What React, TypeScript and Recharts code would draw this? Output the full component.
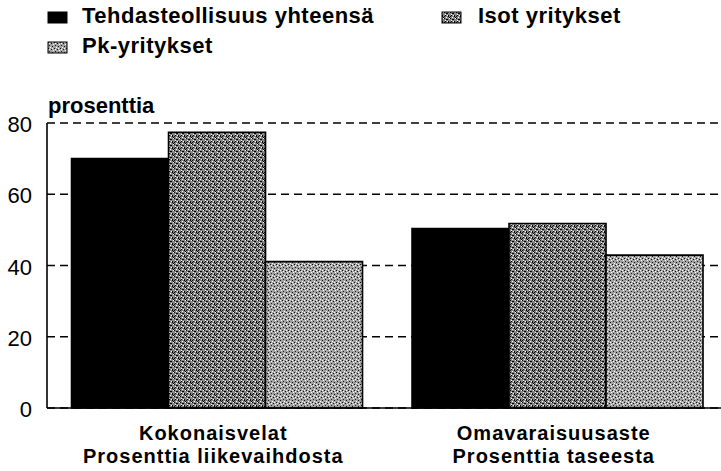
import React from 'react';
import { BarChart, Bar, XAxis, YAxis, CartesianGrid, Legend } from 'recharts';

const categories = ['Kokonaisvelat|Prosenttia liikevaihdosta', 'Omavaraisuusaste|Prosenttia taseesta'];
const tehdasteollisuus = [70, 50.4];
const isot = [77.4, 51.8];
const pk = [41.1, 42.9];
const seriesNames = ['Tehdasteollisuus yhteensä', 'Isot yritykset', 'Pk-yritykset'];
const yTicks = [0, 20, 40, 60, 80];

const data = categories.map((c, i) => ({
  name: c,
  teh: tehdasteollisuus[i],
  isot: isot[i],
  pk: pk[i],
}));

const FONT = '"Liberation Sans", Arial, Helvetica, sans-serif';

const XTick = (props: any) => {
  const { x, y, payload } = props;
  const lines = String(payload.value).split('|');
  return (
    <g>
      {lines.map((l, i) => (
        <text key={i} x={x - 4} y={y + 24 + i * 22.6} textAnchor="middle" fontFamily={FONT} fontWeight="bold" fontSize={20} letterSpacing={1} fill="#000">
          {l}
        </text>
      ))}
    </g>
  );
};

const YTick = (props: any) => {
  const { y, payload } = props;
  return (
    <text x={32} y={y + 9} textAnchor="end" fontFamily={FONT} fontSize={22} fill="#000">
      {payload.value}
    </text>
  );
};

const fills = ['#000', 'url(#patIsot)', 'url(#patPk)'];

const LegendContent = () => {
  const items = [
    { name: seriesNames[0], fill: fills[0], iconX: 48, textX: 82, base: 23 },
    { name: seriesNames[1], fill: fills[1], iconX: 442, textX: 478, base: 23 },
    { name: seriesNames[2], fill: fills[2], iconX: 48, textX: 82, base: 53 },
  ];
  return (
    <svg width={721} height={62} style={{ display: 'block' }}>
      {items.map((it, i) => (
        <g key={i}>
          <rect x={it.iconX} y={it.base - 11} width={19} height={11} fill={it.fill} stroke="#000" strokeWidth={1} />
          <text x={it.textX} y={it.base} fontFamily={FONT} fontWeight="bold" fontSize={22} letterSpacing={0.5} fill="#000">
            {it.name}
          </text>
        </g>
      ))}
    </svg>
  );
};

export default function App() {
  return (
    <div style={{ position: 'absolute', left: 0, top: 0, width: 721, height: 471, background: '#fff', overflow: 'hidden' }}>
      <BarChart
        width={721}
        height={471}
        data={data}
        margin={{ top: 123, right: -7, left: 0, bottom: 3 }}
        barCategoryGap="7.2%"
        barGap={0}
      >
        <defs>
          <pattern id="patIsot" width="6" height="6" patternUnits="userSpaceOnUse">
            <rect width="6" height="6" fill="#858585" />
            <rect x="0" y="0" width="1" height="1" fill="#000" />
            <rect x="2" y="1" width="2" height="1" fill="#000" />
            <rect x="5" y="0" width="1" height="1" fill="#fff" />
            <rect x="1" y="2" width="1" height="1" fill="#fff" />
            <rect x="4" y="3" width="1" height="2" fill="#000" />
            <rect x="0" y="4" width="1" height="1" fill="#111" />
            <rect x="2" y="5" width="1" height="1" fill="#fff" />
            <rect x="3" y="3" width="1" height="1" fill="#fff" />
            <rect x="5" y="5" width="1" height="1" fill="#000" />
            <rect x="1" y="3" width="1" height="1" fill="#000" />
          </pattern>
          <pattern id="patPk" width="6" height="6" patternUnits="userSpaceOnUse">
            <rect width="6" height="6" fill="#a2a2a2" />
            <rect x="0" y="0" width="1" height="1" fill="#111" />
            <rect x="3" y="1" width="1" height="1" fill="#111" />
            <rect x="1" y="3" width="1" height="1" fill="#222" />
            <rect x="4" y="4" width="1" height="1" fill="#111" />
            <rect x="5" y="2" width="1" height="1" fill="#fff" />
            <rect x="2" y="5" width="1" height="1" fill="#fff" />
            <rect x="1" y="1" width="1" height="1" fill="#fff" />
            <rect x="4" y="0" width="1" height="1" fill="#fff" />
          </pattern>
        </defs>
        <CartesianGrid vertical={false} stroke="#000" strokeWidth={1.6} strokeDasharray="8 5" />
        <XAxis
          dataKey="name"
          axisLine={{ stroke: '#000', strokeWidth: 1.6 }}
          tickLine={false}
          tick={<XTick />}
          height={60}
          interval={0}
        />
        <YAxis
          domain={[0, 80]}
          ticks={yTicks}
          width={47}
          axisLine={{ stroke: '#000', strokeWidth: 1.6 }}
          tickLine={false}
          tick={<YTick />}
          interval={0}
          label={{ value: 'prosenttia', position: 'insideTopLeft', content: () => (
            <text x={48} y={113} fontFamily={FONT} fontWeight="bold" fontSize={22} fill="#000">prosenttia</text>
          ) }}
        />
        <Legend
          layout="horizontal"
          verticalAlign="middle"
          align="center"
          wrapperStyle={{ position: 'absolute', top: 0, left: 0, width: 721 }}
          content={<LegendContent />}
        />
        <Bar dataKey="teh" name={seriesNames[0]} fill={fills[0]} stroke="#000" strokeWidth={1.6} isAnimationActive={false} />
        <Bar dataKey="isot" name={seriesNames[1]} fill={fills[1]} stroke="#000" strokeWidth={1.6} isAnimationActive={false} />
        <Bar dataKey="pk" name={seriesNames[2]} fill={fills[2]} stroke="#000" strokeWidth={1.6} isAnimationActive={false} />
      </BarChart>
    </div>
  );
}
